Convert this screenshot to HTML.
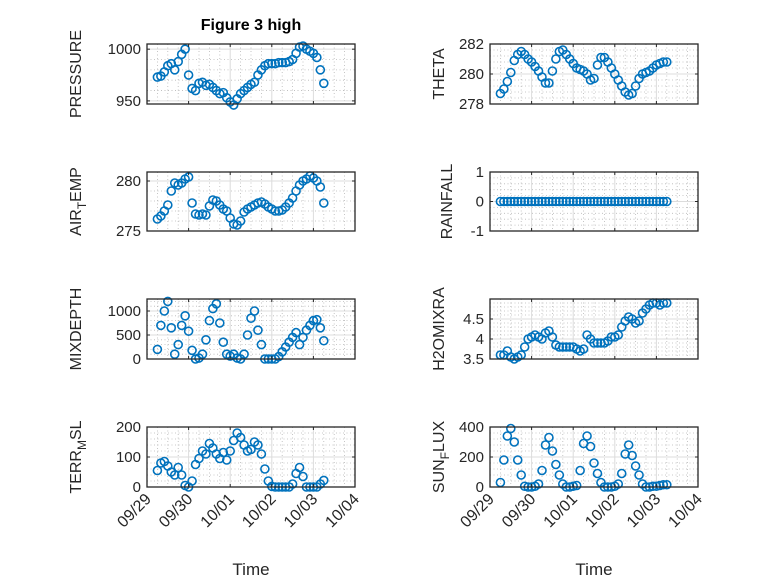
<!DOCTYPE html>
<html><head><meta charset="utf-8"><style>
html,body{margin:0;padding:0;background:#fff}
svg{display:block;font-family:"Liberation Sans","DejaVu Sans",sans-serif}
</style></head><body>
<svg id="fig" width="778" height="583" viewBox="0 0 778 583" xmlns="http://www.w3.org/2000/svg">
<rect width="778" height="583" fill="#fff"/>
<text x="251" y="30" text-anchor="middle" font-size="16" font-weight="bold" fill="#000">Figure 3 high</text>
</svg>
<script>
// time axis: days after 09/29 00:00, 2-hour sampling
const t0 = 0.25, stepDays = 1/12;
const xTickLabels = ["09/29","09/30","10/01","10/02","10/03","10/04"];
const pressure = [973,974,978,984,986,980,988,995,1000,975,962,960,967,968,965,966,963,960,957,958,953,949,946,952,957,960,963,966,968,975,980,984,986,986,986,987,987,987,988,990,996,1002,1003,1000,998,996,992,980,967];
const airTemp = [276.2,276.5,277,277.6,279,279.8,279.6,279.8,280.2,280.4,277.8,276.7,276.6,276.7,276.6,277.5,278.1,278.0,277.6,277.2,277.0,276.3,275.7,275.6,276.0,276.9,277.2,277.4,277.6,277.8,277.9,277.7,277.4,277.2,277.0,277.0,277.1,277.4,277.8,278.3,279.0,279.6,280.0,280.2,280.5,280.3,280.0,279.4,277.8];
const mixDepth = [200,700,1000,1200,650,100,300,700,900,580,180,0,20,100,400,800,1050,1150,750,350,100,60,100,20,0,100,500,850,1000,600,300,0,0,0,0,50,150,250,350,450,550,300,450,600,700,800,820,650,380];
const terrMsl = [55,80,85,70,50,40,65,40,5,0,20,75,95,120,110,145,130,110,95,115,90,120,155,180,165,140,120,125,150,140,110,60,20,2,0,0,0,0,0,10,45,65,35,0,0,0,0,10,22];
const theta = [278.7,279.0,279.5,280.1,280.9,281.3,281.5,281.3,281.0,280.8,280.5,280.2,279.8,279.4,279.4,280.2,281.0,281.5,281.6,281.3,281.0,280.7,280.4,280.3,280.2,280.0,279.6,279.7,280.6,281.1,281.1,280.8,280.4,280.0,279.6,279.2,278.8,278.6,278.7,279.2,279.7,280.0,280.1,280.2,280.4,280.6,280.7,280.8,280.8];
const rainfall = [0,0,0,0,0,0,0,0,0,0,0,0,0,0,0,0,0,0,0,0,0,0,0,0,0,0,0,0,0,0,0,0,0,0,0,0,0,0,0,0,0,0,0,0,0,0,0,0,0];
const h2oMix = [3.6,3.6,3.7,3.55,3.5,3.55,3.6,3.8,4.0,4.05,4.1,4.05,4.0,4.15,4.2,4.05,3.85,3.8,3.8,3.8,3.8,3.8,3.75,3.7,3.75,4.1,4.0,3.9,3.9,3.9,3.9,3.95,4.05,4.05,4.1,4.3,4.45,4.55,4.5,4.4,4.45,4.65,4.75,4.85,4.9,4.9,4.85,4.9,4.9];
const sunFlux = [30,180,340,390,300,180,80,5,0,0,5,20,110,280,330,240,150,80,20,0,0,5,10,110,290,340,270,160,90,30,0,0,0,5,20,90,220,280,210,140,80,20,0,0,5,5,10,15,15];

const NS="http://www.w3.org/2000/svg";
const svg=document.getElementById('fig');
function mk(tag,attrs,parent){const e=document.createElementNS(NS,tag);for(const k in attrs)e.setAttribute(k,attrs[k]);(parent||svg).appendChild(e);return e;}

const cols=[{x0:147,x1:355},{x0:490,x1:698}];
const rows=[{y0:44,y1:104},{y0:172,y1:231},{y0:299,y1:359},{y0:427,y1:487}];
const panels=[
 {name:'pressure',data:pressure,c:0,r:0,ymin:947,ymax:1005,ticks:[950,1000],minor:10,label:['PRESSURE']},
 {name:'air-temp',data:airTemp,c:0,r:1,ymin:275,ymax:280.9,ticks:[275,280],minor:1,label:['AIR','T','EMP']},
 {name:'mixdepth',data:mixDepth,c:0,r:2,ymin:0,ymax:1250,ticks:[0,500,1000],minor:100,label:['MIXDEPTH']},
 {name:'terr-msl',data:terrMsl,c:0,r:3,ymin:0,ymax:200,ticks:[0,100,200],minor:20,label:['TERR','M','SL'],xlab:true},
 {name:'theta',data:theta,c:1,r:0,ymin:278,ymax:282,ticks:[278,280,282],minor:0.4,label:['THETA']},
 {name:'rainfall',data:rainfall,c:1,r:1,ymin:-1,ymax:1,ticks:[-1,0,1],minor:0.2,label:['RAINFALL']},
 {name:'h2omixra',data:h2oMix,c:1,r:2,ymin:3.5,ymax:5,ticks:[3.5,4,4.5],minor:0.1,label:['H2OMIXRA']},
 {name:'sun-flux',data:sunFlux,c:1,r:3,ymin:0,ymax:400,ticks:[0,200,400],minor:40,label:['SUN','F','LUX'],xlab:true}
];

panels.forEach(p=>{
 const C=cols[p.c],R=rows[p.r];
 const xs=d=>C.x0+(d/5)*(C.x1-C.x0);
 const ys=v=>R.y1-(v-p.ymin)/(p.ymax-p.ymin)*(R.y1-R.y0);
 const g=mk('g',{});
 
 
 for(let d=0.25;d<5;d+=0.25){if(Math.abs(d-Math.round(d))<1e-6)continue;
  mk('line',{x1:xs(d),x2:xs(d),y1:R.y0,y2:R.y1,stroke:'#b8b8b8','stroke-width':0.8,'stroke-dasharray':'1 2.5'},g);}
 const nmin=Math.round((p.ymax-p.ymin)/p.minor);
 for(let i=0;i<=nmin+1;i++){const v=Math.ceil(p.ymin/p.minor-1e-9)*p.minor+i*p.minor;if(v>p.ymax)break;
  if(p.ticks.some(t=>Math.abs(t-v)<1e-6))continue;
  mk('line',{x1:C.x0,x2:C.x1,y1:ys(v),y2:ys(v),stroke:'#b8b8b8','stroke-width':0.8,'stroke-dasharray':'1 2.5'},g);}
 for(let d=1;d<5;d++) mk('line',{x1:xs(d),x2:xs(d),y1:R.y0,y2:R.y1,stroke:'#dcdcdc','stroke-width':1},g);
 p.ticks.forEach(v=>{if(v>p.ymin&&v<p.ymax)mk('line',{x1:C.x0,x2:C.x1,y1:ys(v),y2:ys(v),stroke:'#dcdcdc','stroke-width':1},g);});
 const dg=mk('g',{},g);
 
 
 p.data.forEach((v,i)=>{
  const m=mk('circle',{cx:xs(t0+i*stepDays),cy:ys(v),r:4,fill:'none',stroke:'#0072BD','stroke-width':1.6},dg);
  
  
 });
 mk('rect',{x:C.x0,y:R.y0,width:C.x1-C.x0,height:R.y1-R.y0,fill:'none',stroke:'#262626','stroke-width':1.3},g);
 for(let d=0;d<=5;d++){mk('line',{x1:xs(d),x2:xs(d),y1:R.y1,y2:R.y1-3,stroke:'#262626','stroke-width':1},g);
  mk('line',{x1:xs(d),x2:xs(d),y1:R.y0,y2:R.y0+3,stroke:'#262626','stroke-width':1},g);}
 p.ticks.forEach(v=>{
  mk('line',{x1:C.x0,x2:C.x0+3,y1:ys(v),y2:ys(v),stroke:'#262626','stroke-width':1},g);
  mk('line',{x1:C.x1,x2:C.x1-3,y1:ys(v),y2:ys(v),stroke:'#262626','stroke-width':1},g);
  const t=mk('text',{x:C.x0-6,y:ys(v)+5,'text-anchor':'end','font-size':15,fill:'#262626'},g);
  
  
  t.textContent=String(v);
 });
 const lx=C.x0-(p.c===0?66:(p.name==='rainfall'?38:46));
 const ly=(R.y0+R.y1)/2;
 const yl=mk('text',{x:lx,y:ly,'text-anchor':'middle','font-size':16,fill:'#262626',transform:`rotate(-90 ${lx} ${ly})`},g);
 
 
 if(p.label.length===1){yl.textContent=p.label[0];}
 else{
  const a=mk('tspan',{},yl);a.textContent=p.label[0];
  const b=mk('tspan',{dy:5,'font-size':12},yl);b.textContent=p.label[1];
  const c=mk('tspan',{dy:-5},yl);c.textContent=p.label[2];
 }
 if(p.xlab){
  xTickLabels.forEach((s,d)=>{
   const tx=xs(d)+5,ty=R.y1+13;
   const t=mk('text',{x:tx,y:ty,'text-anchor':'end','font-size':16,fill:'#262626',transform:`rotate(-45 ${tx} ${ty})`},g);
   
   
   t.textContent=s;
  });
  const xt=mk('text',{x:(C.x0+C.x1)/2,y:575,'text-anchor':'middle','font-size':17,fill:'#262626'},g);
  
  
  xt.textContent='Time';
 }
});
</script>
</body></html>
